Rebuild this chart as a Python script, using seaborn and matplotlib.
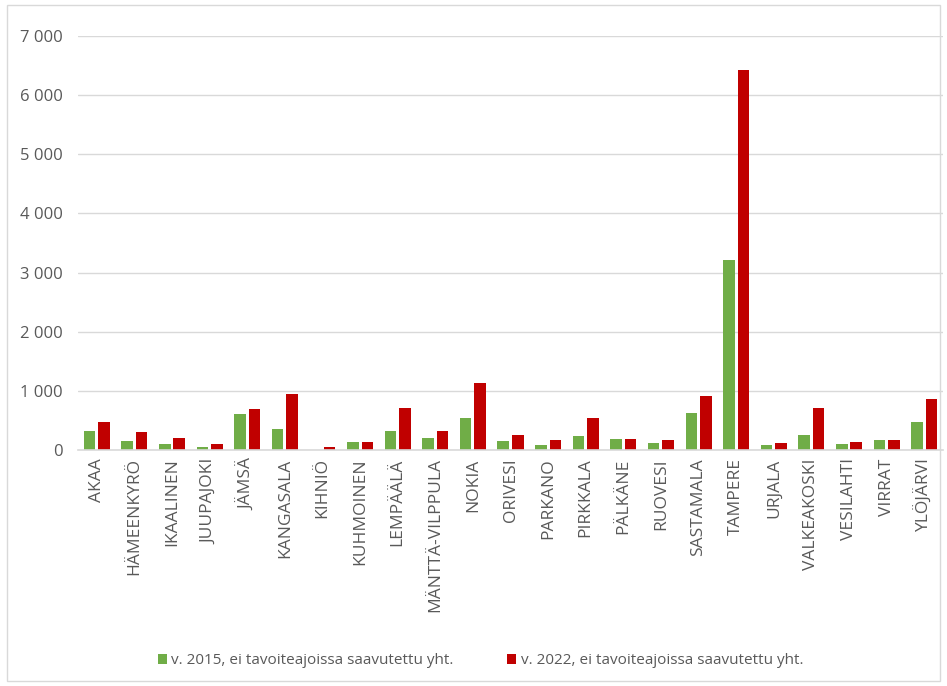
import pandas as pd
import matplotlib.pyplot as plt
import seaborn as sns
from matplotlib.patches import Rectangle
from matplotlib.ticker import FuncFormatter

# Data
kunnat = ["AKAA", "HÄMEENKYRÖ", "IKAALINEN", "JUUPAJOKI", "JÄMSÄ", "KANGASALA",
          "KIHNIÖ", "KUHMOINEN", "LEMPÄÄLÄ", "MÄNTTÄ-VILPPULA", "NOKIA", "ORIVESI",
          "PARKANO", "PIRKKALA", "PÄLKÄNE", "RUOVESI", "SASTAMALA", "TAMPERE",
          "URJALA", "VALKEAKOSKI", "VESILAHTI", "VIRRAT", "YLÖJÄRVI"]
v2015 = [322, 153, 96, 56, 616, 356, 5, 136, 322, 209, 548, 154,
         80, 234, 194, 120, 628, 3212, 80, 251, 97, 177, 480]
v2022 = [469, 300, 209, 96, 689, 955, 56, 136, 712, 322, 1125, 251,
         177, 537, 194, 177, 910, 6421, 120, 703, 137, 177, 857]

sarja1 = "v. 2015, ei tavoiteajoissa saavutettu yht."
sarja2 = "v. 2022, ei tavoiteajoissa saavutettu yht."

df = pd.concat([
    pd.DataFrame({"kunta": kunnat, "arvo": v2015, "sarja": sarja1}),
    pd.DataFrame({"kunta": kunnat, "arvo": v2022, "sarja": sarja2}),
])

sns.set_style("white")
plt.rcParams["font.family"] = ["Open Sans", "DejaVu Sans"]

fig = plt.figure(figsize=(9.47, 6.86), dpi=100)
ax = fig.add_axes([78 / 947, 1 - 450 / 686, 865 / 947, 414 / 686])

sns.barplot(data=df, x="kunta", y="arvo", hue="sarja",
            palette=["#70AD47", "#C00000"], saturation=1,
            width=0.77, gap=0.2, linewidth=0,
            ax=ax, legend=True)

ax.set_ylim(0, 7000)
ax.set_xlim(-0.5, len(kunnat) - 0.5)
ax.set_yticks(range(0, 7001, 1000))
ax.yaxis.set_major_formatter(FuncFormatter(lambda v, p: f"{int(v):,}".replace(",", " ")))
ax.grid(axis="y", color="#D9D9D9", linewidth=1)
ax.set_axisbelow(True)
for s in ["top", "right", "left"]:
    ax.spines[s].set_visible(False)
ax.spines["bottom"].set_color("#D9D9D9")
ax.spines["bottom"].set_linewidth(1.2)
ax.set_xlabel("")
ax.set_ylabel("")
ax.tick_params(axis="x", labelrotation=90, labelsize=12.5, labelcolor="#595959", length=0, pad=6)
ax.tick_params(axis="y", labelsize=12, labelcolor="#595959", length=0, pad=11)

ax.legend(loc="lower center", bbox_to_anchor=(0.5 - 30 / 865, -0.56), ncol=2,
          frameon=False, fontsize=11, labelcolor="#595959",
          handlelength=0.6, handleheight=0.6, handletextpad=0.3, columnspacing=3.5)

# chart border
fig.patches.append(Rectangle((7 / 947, 5 / 686), 933 / 947, 676 / 686,
                             transform=fig.transFigure, fill=False,
                             edgecolor="#D9D9D9", linewidth=1))

fig.savefig("out.png", dpi=100)
